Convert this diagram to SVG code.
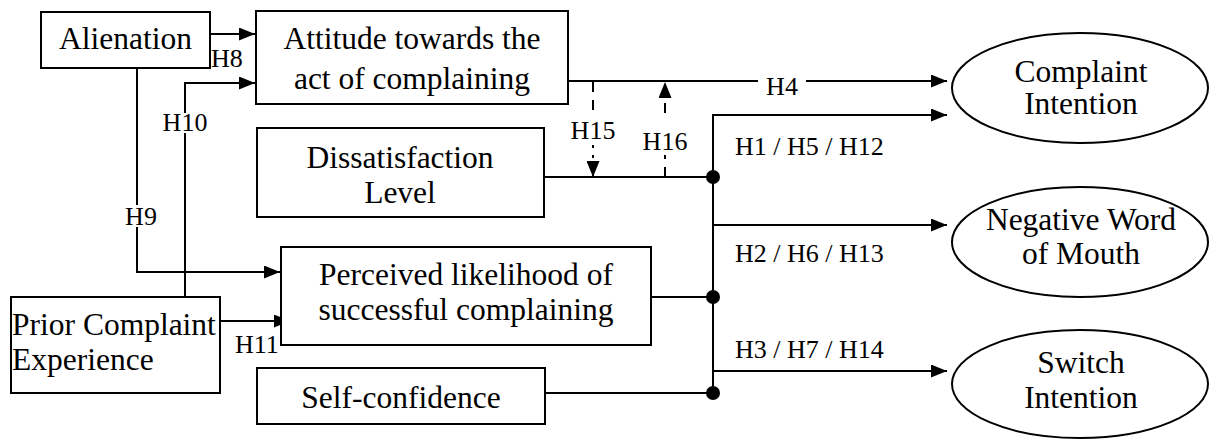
<svg xmlns="http://www.w3.org/2000/svg" width="1212" height="439" viewBox="0 0 1212 439">
<style>
.box{fill:#fff;stroke:#000;stroke-width:2}
.ell{fill:#fff;stroke:#000;stroke-width:2}
.t{font-family:"Liberation Serif","Times New Roman",serif;font-size:31.5px;fill:#000;text-anchor:middle}
.l{font-family:"Liberation Serif","Times New Roman",serif;font-size:26px;fill:#000}
.c{fill:none;stroke:#000;stroke-width:2}
.d{fill:none;stroke:#000;stroke-width:2;stroke-dasharray:10 8}
</style>
<defs>
<marker id="ah" markerUnits="userSpaceOnUse" markerWidth="16" markerHeight="13" refX="16" refY="6.5" orient="auto">
<path d="M0,0 L16,6.5 L0,13 z" fill="#000"/>
</marker>
</defs>
<g id="connectors">
<path class="c" d="M210,34 H255" marker-end="url(#ah)"/>
<path class="c" d="M185,297 V133 M185,113 V83 H255" marker-end="url(#ah)"/>
<path class="c" d="M137,68 V205 M137,227 V272 H280" marker-end="url(#ah)"/>
<path class="c" d="M220,321 H290" marker-end="url(#ah)"/>
<path class="c" d="M568,81 H758"/>
<path class="c" d="M806,81 H947" marker-end="url(#ah)"/>
<path class="d" d="M593,82 V116"/>
<path class="d" d="M593,145 V177" marker-end="url(#ah)" style="stroke-dasharray:3 7"/>
<path class="d" d="M665,177 V155" style="stroke-dasharray:10 8"/>
<path class="d" d="M665,113 V82" marker-end="url(#ah)"/>
<path class="c" d="M544,177 H713"/>
<path class="c" d="M651,297 H713"/>
<path class="c" d="M545,393 H713"/>
<path class="c" d="M713,393 V115 H947" marker-end="url(#ah)"/>
<path class="c" d="M713,225 H947" marker-end="url(#ah)"/>
<path class="c" d="M713,371 H947" marker-end="url(#ah)"/>
<circle cx="713" cy="177" r="7" fill="#000"/>
<circle cx="713" cy="297" r="7" fill="#000"/>
<circle cx="713" cy="393" r="7" fill="#000"/>
<text class="l" x="211" y="67">H8</text>
<text class="l" x="185" y="131" text-anchor="middle">H10</text>
<text class="l" x="141" y="225" text-anchor="middle">H9</text>
<text class="l" x="235" y="353">H11</text>
<text class="l" x="782" y="95" text-anchor="middle">H4</text>
<text class="l" x="593" y="139" text-anchor="middle">H15</text>
<text class="l" x="665" y="150" text-anchor="middle">H16</text>
<text class="l" x="735" y="155">H1 / H5 / H12</text>
<text class="l" x="735" y="262">H2 / H6 / H13</text>
<text class="l" x="735" y="358">H3 / H7 / H14</text>
</g>
<g id="alienation">
<rect class="box" x="41" y="12" width="169" height="56"/>
<text class="t" x="125.5" y="49">Alienation</text>
</g>
<g id="attitude">
<rect class="box" x="256" y="11" width="312" height="93"/>
<text class="t" x="412" y="49">Attitude towards the</text>
<text class="t" x="412" y="89">act of complaining</text>
</g>
<g id="dissatisfaction">
<rect class="box" x="257" y="128" width="287" height="89"/>
<text class="t" x="400" y="168">Dissatisfaction</text>
<text class="t" x="400" y="203">Level</text>
</g>
<g id="perceived">
<rect class="box" x="281" y="247" width="370" height="98"/>
<text class="t" x="466" y="285">Perceived likelihood of</text>
<text class="t" x="466" y="320">successful complaining</text>
</g>
<g id="selfconfidence">
<rect class="box" x="257" y="368" width="288" height="56"/>
<text class="t" x="401" y="408">Self-confidence</text>
</g>
<g id="prior">
<rect class="box" x="11" y="297" width="209" height="96"/>
<text class="t" x="12" y="335" style="text-anchor:start">Prior Complaint</text>
<text class="t" x="12" y="370" style="text-anchor:start">Experience</text>
</g>
<g id="complaint">
<ellipse class="ell" cx="1080" cy="88" rx="128" ry="55"/>
<text class="t" x="1081" y="82">Complaint</text>
<text class="t" x="1081" y="114">Intention</text>
</g>
<g id="nwom">
<ellipse class="ell" cx="1080" cy="242" rx="128" ry="55"/>
<text class="t" x="1081" y="230">Negative Word</text>
<text class="t" x="1081" y="264">of Mouth</text>
</g>
<g id="switch">
<ellipse class="ell" cx="1080" cy="384" rx="128" ry="54"/>
<text class="t" x="1081" y="373">Switch</text>
<text class="t" x="1081" y="408">Intention</text>
</g>
</svg>
